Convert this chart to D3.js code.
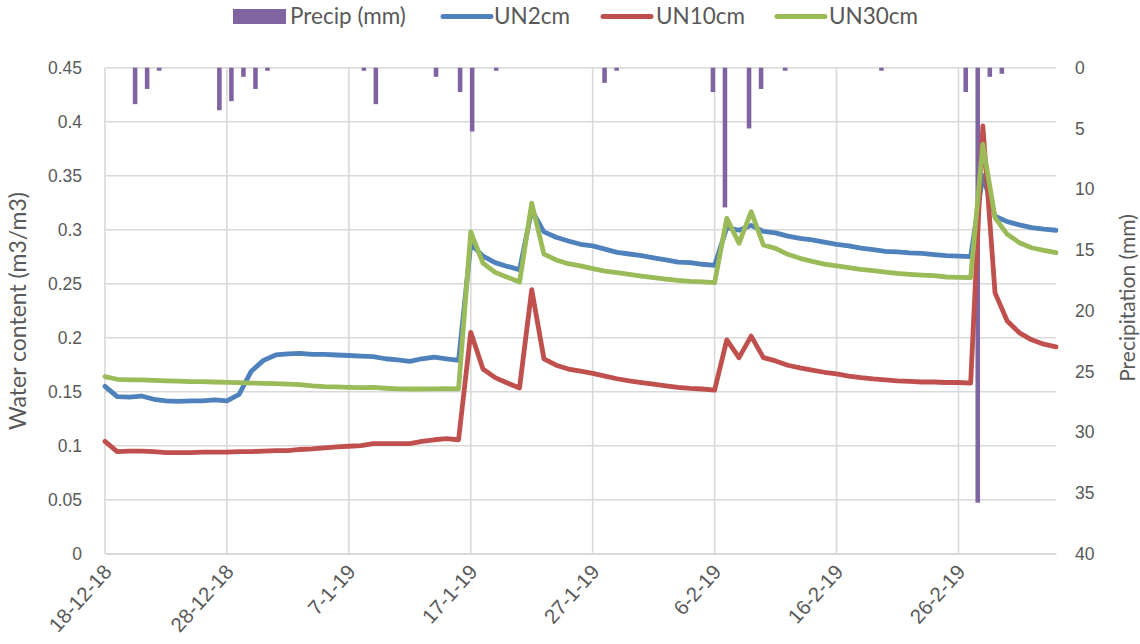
<!DOCTYPE html>
<html>
<head>
<meta charset="utf-8">
<script src="https://cdn.jsdelivr.net/npm/d3@7"></script>
<style>
  html, body { margin: 0; padding: 0; background: #fff; }
  svg { display: block; font-family: Lato, "Open Sans", sans-serif; }
  .tick text, .label { fill: #595959; }
</style>
</head>
<body>
<svg id="chart" width="1140" height="644"></svg>
<script>
// Daily soil moisture and precipitation, 18 Dec 2018 – 6 Mar 2019
const startDate = new Date(2018, 11, 18);
const endDate = new Date(2019, 2, 6);
const dates = d3.timeDay.range(startDate, d3.timeDay.offset(endDate, 1));

const tickDates = ["2018-12-18", "2018-12-28", "2019-01-07", "2019-01-17",
                   "2019-01-27", "2019-02-06", "2019-02-16", "2019-02-26"];

const leftTicks = [0, 0.05, 0.1, 0.15, 0.2, 0.25, 0.3, 0.35, 0.4, 0.45];
const rightTicks = [0, 5, 10, 15, 20, 25, 30, 35, 40];

// Precipitation (mm), one value per day
const precip = [
  0, 0, 3.0, 1.75, 0.25, 0, 0, 0, 0, 3.5,
  2.75, 0.75, 1.75, 0.25, 0, 0, 0, 0, 0, 0,
  0, 0.25, 3.0, 0, 0, 0, 0, 0.75, 0, 2.0,
  5.25, 0, 0.25, 0, 0, 0, 0, 0, 0, 0,
  0, 1.25, 0.25, 0, 0, 0, 0, 0, 0, 0,
  2.0, 11.5, 0, 5.0, 1.75, 0, 0.25, 0, 0, 0,
  0, 0, 0, 0, 0.25, 0, 0, 0, 0, 0,
  0, 2.0, 35.8, 0.75, 0.5, 0, 0, 0, 0
];

// Volumetric water content (m3/m3) at 2 cm
const un2cm = [
  0.155, 0.1455, 0.145, 0.146, 0.143, 0.1415, 0.141, 0.1415, 0.1415, 0.1425,
  0.1415, 0.1475, 0.169, 0.179, 0.184, 0.185, 0.1855, 0.1845, 0.1845, 0.184,
  0.1835, 0.183, 0.1825, 0.1805, 0.1795, 0.178, 0.1805, 0.182, 0.1805, 0.179,
  0.287, 0.2755, 0.2695, 0.266, 0.263, 0.318, 0.298, 0.293, 0.2895, 0.2865,
  0.285, 0.282, 0.279, 0.2775, 0.276, 0.274, 0.272, 0.270, 0.2695, 0.268,
  0.267, 0.302, 0.2995, 0.304, 0.2985, 0.297, 0.294, 0.292, 0.2905, 0.2885,
  0.2865, 0.285, 0.283, 0.2815, 0.280, 0.2795, 0.2785, 0.278, 0.277, 0.276,
  0.2755, 0.275, 0.35, 0.3125, 0.3075, 0.3045, 0.302, 0.3005, 0.2995
];

// Volumetric water content (m3/m3) at 10 cm
const un10cm = [
  0.104, 0.0945, 0.095, 0.095, 0.0945, 0.0935, 0.0935, 0.0935, 0.094, 0.094,
  0.094, 0.0945, 0.0945, 0.095, 0.0955, 0.0955, 0.0965, 0.097, 0.098, 0.099,
  0.0995, 0.100, 0.102, 0.102, 0.102, 0.102, 0.104, 0.1055, 0.1065, 0.1055,
  0.205, 0.171, 0.163, 0.158, 0.1535, 0.2445, 0.1805, 0.1745, 0.171, 0.169,
  0.167, 0.1645, 0.162, 0.160, 0.1585, 0.157, 0.1555, 0.154, 0.153, 0.1525,
  0.1515, 0.198, 0.1815, 0.2015, 0.1815, 0.1785, 0.1745, 0.172, 0.170, 0.168,
  0.1665, 0.1645, 0.163, 0.1618, 0.161, 0.160, 0.1595, 0.159, 0.159, 0.1585,
  0.1585, 0.158, 0.396, 0.2415, 0.2155, 0.2045, 0.198, 0.194, 0.1915
];

// Volumetric water content (m3/m3) at 30 cm
const un30cm = [
  0.164, 0.1615, 0.161, 0.161, 0.1605, 0.160, 0.1597, 0.1594, 0.1594, 0.159,
  0.1587, 0.1584, 0.158, 0.1578, 0.1575, 0.157, 0.1565, 0.1553, 0.1547, 0.1544,
  0.154, 0.1538, 0.154, 0.1532, 0.1526, 0.1525, 0.1525, 0.1526, 0.1528, 0.1526,
  0.298, 0.269, 0.2605, 0.256, 0.2515, 0.3245, 0.2775, 0.272, 0.2685, 0.2665,
  0.264, 0.2617, 0.2602, 0.2587, 0.2571, 0.2556, 0.2543, 0.2531, 0.2522, 0.2516,
  0.251, 0.3105, 0.2874, 0.3167, 0.2858, 0.2827, 0.2772, 0.2735, 0.2707, 0.2682,
  0.2664, 0.2648, 0.2633, 0.2621, 0.2608, 0.2596, 0.2587, 0.258, 0.2574, 0.2562,
  0.2559, 0.2556, 0.379, 0.3111, 0.2957, 0.288, 0.2833, 0.2809, 0.2787
];

const seriesNames = ["Precip (mm)", "UN2cm", "UN10cm", "UN30cm"];
const colors = { precip: "#8064A2", un2: "#4F81BD", un10: "#C0504D", un30: "#9BBB59" };

// ---- layout ----
const plot = { left: 105, right: 1056, top: 67.7, bottom: 553.7 };
const svg = d3.select("#chart");
const parse = d3.timeParse("%Y-%m-%d");
const fmtDate = d3.timeFormat("%-d-%-m-%y");

const x = d3.scaleTime().domain([startDate, endDate]).range([plot.left, plot.right]);
const xBand = d3.scaleBand().domain(dates).range([plot.left, plot.right])
  .paddingInner(0.62).paddingOuter(0.31);
const y = d3.scaleLinear().domain([0, 0.45]).range([plot.bottom, plot.top]);
const y2 = d3.scaleLinear().domain([0, 40]).range([plot.top, plot.bottom]);

// ---- gridlines ----
const grid = svg.append("g").attr("stroke", "#D9D9D9").attr("stroke-width", 1.6);
grid.selectAll("line.h").data(leftTicks).join("line")
  .attr("x1", plot.left).attr("x2", plot.right)
  .attr("y1", d => y(d)).attr("y2", d => y(d));
grid.selectAll("line.v").data(tickDates.map(parse)).join("line")
  .attr("x1", d => x(d)).attr("x2", d => x(d))
  .attr("y1", plot.top).attr("y2", plot.bottom);

// ---- axes ----
const axisFont = 17.5;
const gl = svg.append("g").attr("transform", `translate(${plot.left},0)`)
  .call(d3.axisLeft(y).tickValues(leftTicks).tickSize(0).tickPadding(23)
    .tickFormat(d3.format(".2~f")));
gl.select(".domain").remove();
gl.selectAll("text").attr("font-size", axisFont).attr("fill", "#595959");

const gr = svg.append("g").attr("transform", `translate(${plot.right},0)`)
  .call(d3.axisRight(y2).tickValues(rightTicks).tickSize(0).tickPadding(19));
gr.select(".domain").remove();
gr.selectAll("text").attr("font-size", axisFont).attr("fill", "#595959");

const gb = svg.append("g").attr("transform", `translate(0,${plot.bottom})`)
  .call(d3.axisBottom(x).tickValues(tickDates.map(parse)).tickSize(0).tickFormat(fmtDate));
gb.select(".domain").attr("stroke", "#D9D9D9").attr("stroke-width", 1.6);
gb.selectAll("text")
  .attr("font-size", 20.5).attr("fill", "#595959")
  .attr("text-anchor", "end")
  .attr("dy", "0.35em")
  .attr("transform", "translate(2,14) rotate(-48)")
  .attr("x", 0).attr("y", 0);

// ---- precipitation bars (secondary axis, hanging from top) ----
svg.append("g").attr("fill", colors.precip)
  .selectAll("rect").data(dates.map((d, i) => ({ d, v: precip[i] })).filter(p => p.v > 0))
  .join("rect")
  .attr("x", p => xBand(p.d)).attr("width", xBand.bandwidth())
  .attr("y", y2(0)).attr("height", p => y2(p.v) - y2(0));

// ---- soil moisture lines ----
const line = d3.line().x((d, i) => x(dates[i])).y(d => y(d));
[[un2cm, colors.un2], [un10cm, colors.un10], [un30cm, colors.un30]].forEach(([vals, c]) => {
  svg.append("path").datum(vals)
    .attr("d", line).attr("fill", "none").attr("stroke", c)
    .attr("stroke-width", 4.8).attr("stroke-linejoin", "round").attr("stroke-linecap", "round");
});

// ---- axis titles ----
svg.append("text").attr("class", "label")
  .attr("transform", "translate(26,311) rotate(-90)")
  .attr("text-anchor", "middle").attr("font-size", 23)
  .text("Water content (m3/m3)");
svg.append("text").attr("class", "label")
  .attr("transform", "translate(1135,298) rotate(-90)")
  .attr("text-anchor", "middle").attr("font-size", 21)
  .text("Precipitation (mm)");

// ---- legend ----
const legendItems = [
  { name: seriesNames[0], color: colors.precip, type: "rect", x: 233, tx: 290 },
  { name: seriesNames[1], color: colors.un2, type: "line", x: 441, tx: 494 },
  { name: seriesNames[2], color: colors.un10, type: "line", x: 601, tx: 656 },
  { name: seriesNames[3], color: colors.un30, type: "line", x: 775, tx: 829 }
];
const lg = svg.append("g");
legendItems.forEach(it => {
  if (it.type === "rect") {
    lg.append("rect").attr("x", it.x).attr("y", 9).attr("width", 53).attr("height", 15)
      .attr("fill", it.color);
  } else {
    lg.append("line").attr("x1", it.x + 2).attr("x2", it.x + 50)
      .attr("y1", 16.5).attr("y2", 16.5)
      .attr("stroke", it.color).attr("stroke-width", 5).attr("stroke-linecap", "round");
  }
  lg.append("text").attr("class", "label").attr("x", it.tx).attr("y", 16.5)
    .attr("dy", "0.35em").attr("font-size", 22.5).text(it.name);
});
</script>
</body>
</html>
